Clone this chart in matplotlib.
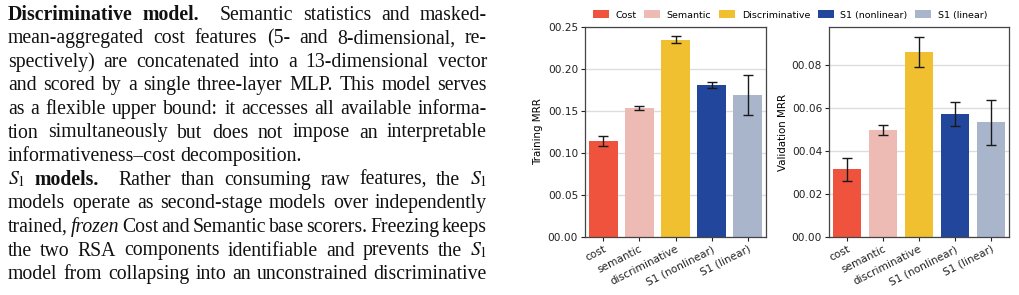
"""Paper snippet: justified body text on the left, train/val MRR bar charts on the right."""

import matplotlib
matplotlib.use("Agg")
import matplotlib.pyplot as plt
from matplotlib.patches import Patch
from matplotlib.ticker import FuncFormatter
from matplotlib.transforms import IdentityTransform

# ---- data -------------------------------------------------------------
categories = ["cost", "semantic", "discriminative", "S1 (nonlinear)", "S1 (linear)"]
legend_labels = ["Cost", "Semantic", "Discriminative", "S1 (nonlinear)", "S1 (linear)"]
colors = ["#f0533d", "#edbab4", "#f0c030", "#21469b", "#a8b5cb"]

train_mrr = [0.1143, 0.1537, 0.2349, 0.1807, 0.1692]
train_err = [0.0065, 0.0020, 0.0042, 0.0034, 0.0240]
val_mrr = [0.0315, 0.0497, 0.0861, 0.0572, 0.0534]
val_err = [0.0053, 0.0024, 0.0069, 0.0054, 0.0104]

# body text: each line is a list of words, each word a list of (text, style)
R, B, I, M = "normal", "bold", "italic", "math"
body = [
    ([[("Discriminative", B)], [("model.", B)], [("Semantic", R)], [("statistics", R)],
      [("and", R)], [("masked-", R)]], True),
    ([[(w, R)] for w in "mean-aggregated cost features (5- and 8-dimensional, re-".split()], True),
    ([[(w, R)] for w in "spectively) are concatenated into a 13-dimensional vector".split()], True),
    ([[(w, R)] for w in "and scored by a single three-layer MLP. This model serves".split()], True),
    ([[(w, R)] for w in "as a flexible upper bound: it accesses all available informa-".split()], True),
    ([[(w, R)] for w in "tion simultaneously but does not impose an interpretable".split()], True),
    ([[(w, R)] for w in "informativeness–cost decomposition.".split()], False),
    ([[("$S_1$", M)], [("models.", B)]]
     + [[(w, R)] for w in "Rather than consuming raw features, the".split()]
     + [[("$S_1$", M)]], True),
    ([[(w, R)] for w in "models operate as second-stage models over independently".split()], True),
    ([[("trained,", R)], [("frozen", I)]]
     + [[(w, R)] for w in "Cost and Semantic base scorers. Freezing keeps".split()], True),
    ([[(w, R)] for w in "the two RSA components identifiable and prevents the".split()]
     + [[("$S_1$", M)]], True),
    ([[(w, R)] for w in "model from collapsing into an unconstrained discriminative".split()], True),
]

# ---- figure -----------------------------------------------------------
W, H = 1019, 295
plt.rcParams["mathtext.fontset"] = "stix"
fig = plt.figure(figsize=(W / 100, H / 100), dpi=100)
renderer = fig.canvas.get_renderer()

TEXT_SIZE = 14.2
LEFT, RIGHT = 8, 487
BASE0, LEAD = 19.5, 23.6


def put(s, style, x, y):
    kw = dict(fontsize=TEXT_SIZE, family="Liberation Serif", color="#111111",
              transform=IdentityTransform(), va="baseline", ha="left")
    if style == B:
        kw["fontweight"] = "bold"
    elif style == I:
        kw["fontstyle"] = "italic"
    return fig.text(x, y, s, **kw)


for i, (words, justify) in enumerate(body):
    y = H - (BASE0 + LEAD * i)
    # draw words at 0, measure, then move
    drawn = []
    widths = []
    for word in words:
        parts = []
        w = 0
        for s, st in word:
            t = put(s, st, 0, y)
            ext = t.get_window_extent(renderer)
            parts.append((t, w))
            w += ext.width
        drawn.append(parts)
        widths.append(w)
    space = put(" ", R, 0, y)
    sp = space.get_window_extent(renderer).width
    space.remove()
    extra = 10 if i in (0, 7) else 0  # quad after run-in headings
    n = len(words)
    if justify and n > 1:
        gap = (RIGHT - LEFT - sum(widths) - extra) / (n - 1)
    else:
        gap = sp * 0.9
    x = LEFT
    for k, parts in enumerate(drawn):
        for t, off in parts:
            t.set_position((x + off, y))
        x += widths[k] + gap
        if extra and k == 1:
            x += extra

# ---- bar charts -------------------------------------------------------
ax1 = fig.add_axes([585 / W, 58 / H, 181 / W, 210 / H])
ax2 = fig.add_axes([829 / W, 58 / H, 180 / W, 210 / H])
fmt = FuncFormatter(lambda v, p: "0" + f"{v:.2f}")

panels = [
    (ax1, train_mrr, train_err, "Training MRR", 0.25, [0, 0.05, 0.10, 0.15, 0.20, 0.25]),
    (ax2, val_mrr, val_err, "Validation MRR", 0.0977, [0, 0.02, 0.04, 0.06, 0.08]),
]
for ax, vals, errs, ylabel, top, ticks in panels:
    xs = range(len(categories))
    ax.bar(xs, vals, width=0.8, color=colors, zorder=2)
    ax.errorbar(xs, vals, yerr=errs, fmt="none", ecolor="#1a1a1a",
                elinewidth=1.0, capsize=3.6, capthick=1.0, zorder=3)
    ax.set_xlim(-0.5, len(categories) - 0.5)
    ax.set_ylim(0, top)
    ax.set_yticks(ticks)
    ax.yaxis.set_major_formatter(fmt)
    ax.yaxis.grid(True, color="#dddddd", linewidth=1.0, zorder=0)
    ax.set_axisbelow(True)
    ax.set_xticks(list(xs))
    ax.set_xticklabels(categories, rotation=27, ha="right", rotation_mode="anchor")
    ax.tick_params(labelsize=7.6, length=3, width=0.8, colors="#222222", pad=2)
    ax.set_ylabel(ylabel, fontsize=7.4, labelpad=3)
    for s in ax.spines.values():
        s.set_color("#444444")
        s.set_linewidth(0.9)

handles = [Patch(facecolor=c, edgecolor="none") for c in colors]
fig.legend(handles, legend_labels, loc="center", bbox_to_anchor=(790 / W, 1 - 15 / H),
           ncol=5, frameon=False, fontsize=6.8, handlelength=1.7, handleheight=0.9,
           columnspacing=0.8, handletextpad=0.7)

fig.savefig("out.png", dpi=100)
